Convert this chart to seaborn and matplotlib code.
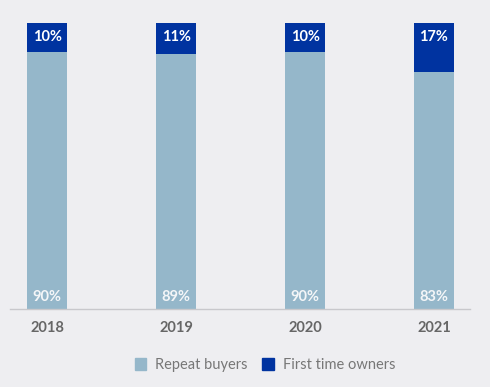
import seaborn as sns
import pandas as pd
import matplotlib.pyplot as plt
from matplotlib.patches import Patch

years = ['2018', '2019', '2020', '2021']
repeat_buyers = [90, 89, 90, 83]
first_time = [10, 11, 10, 17]

light = '#95b7ca'
dark = '#0033a0'
bg = '#eeeef1'

sns.set_theme(style='white')
plt.rcParams['font.family'] = ['Lato', 'DejaVu Sans']

df = pd.DataFrame({'year': years, 'repeat': repeat_buyers, 'first': first_time})
df['total'] = df['repeat'] + df['first']

fig = plt.figure(figsize=(4.9, 3.87), dpi=100, facecolor=bg)
ax = fig.add_axes([10 / 490, 1 - 309 / 387, 460 / 490, 286 / 387])
ax.set_facecolor(bg)

# dark part is drawn as full stack, light part over it
sns.barplot(data=df, x='year', y='total', color=dark, width=0.31, saturation=1,
            linewidth=0, ax=ax)
sns.barplot(data=df, x='year', y='repeat', color=light, width=0.31, saturation=1,
            linewidth=0, ax=ax)

for i, (r, f) in enumerate(zip(repeat_buyers, first_time)):
    ax.text(i, 100 - 5, f'{f}%', ha='center', va='center', color='white',
            fontsize=10.5, fontweight='bold')
    ax.text(i, 4.2, f'{r}%', ha='center', va='center', color='#f4f6f8',
            fontsize=10.5, fontweight='bold')

ax.set_xlim(-0.29, 3.28)
ax.set_ylim(0, 100)
ax.set_xlabel('')
ax.set_ylabel('')
ax.set_yticks([])
ax.tick_params(axis='x', length=0, pad=9, labelsize=10.5, labelcolor='#666666')
for t in ax.get_xticklabels():
    t.set_fontweight('bold')
for s in ['top', 'right', 'left']:
    ax.spines[s].set_visible(False)
ax.spines['bottom'].set_color('#c8c8cc')
ax.spines['bottom'].set_linewidth(1)

handles = [Patch(color=light, label='Repeat buyers'), Patch(color=dark, label='First time owners')]
fig.legend(handles=handles, loc='center', bbox_to_anchor=(265 / 490, 1 - 365 / 387), ncol=2,
           frameon=False, fontsize=10.5, labelcolor='#777777', handlelength=0.8, handleheight=0.8,
           handletextpad=0.6, columnspacing=1.0)

fig.savefig('out.png', dpi=100, facecolor=bg)
